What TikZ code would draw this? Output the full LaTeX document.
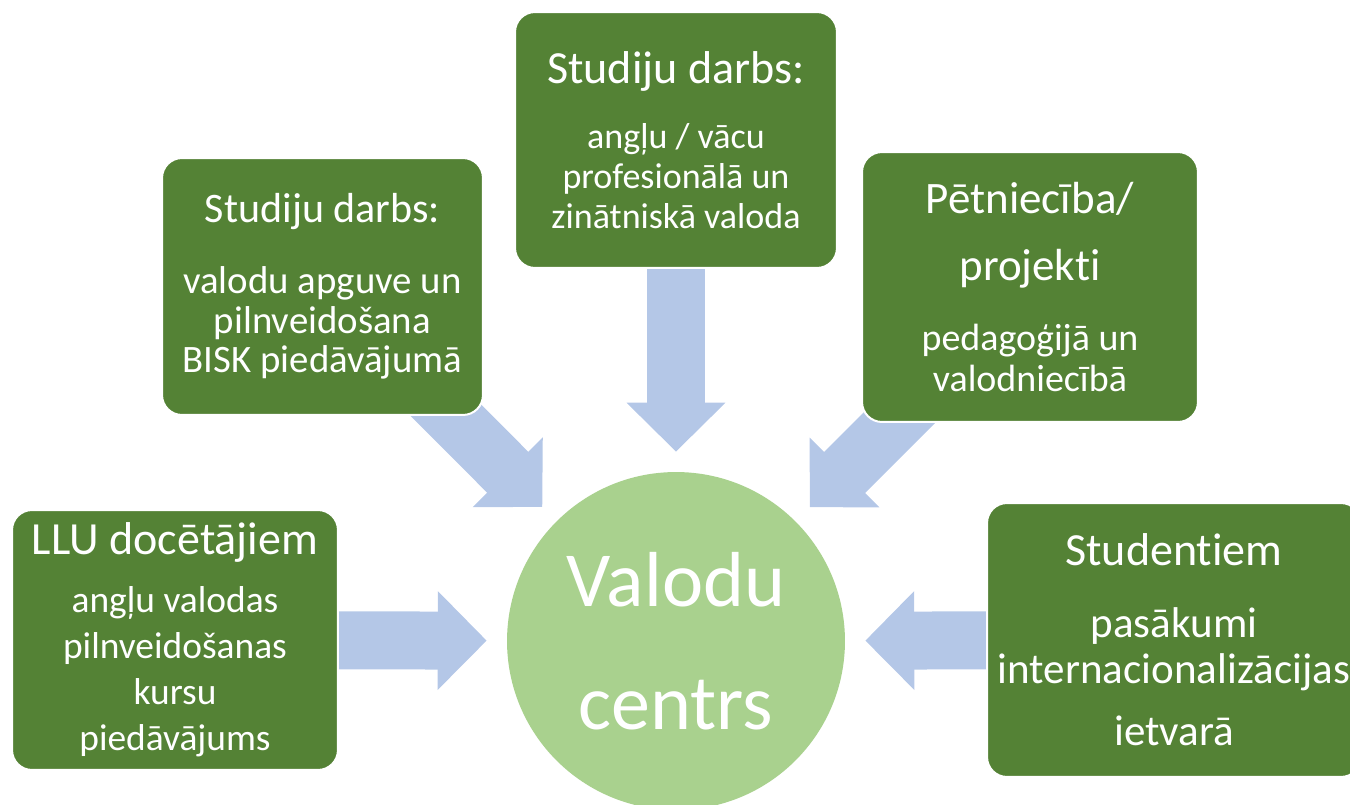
\documentclass[tikz,border=0pt]{standalone}
\usepackage{fontspec}
\setmainfont{Carlito}[Ligatures=NoCommon]
\usetikzlibrary{arrows.meta,backgrounds}

\definecolor{boxgreen}{RGB}{84,130,53}
\definecolor{hubgreen}{RGB}{169,209,142}
\definecolor{feedblue}{RGB}{180,199,231}

\begin{document}
\begin{tikzpicture}[x=0.02cm, y=-0.02cm,
    box/.style={rectangle, rounded corners=0.4cm, fill=boxgreen, draw=white, line width=0.04cm,
                text=white, align=center, inner sep=0pt},
    hub/.style={circle, fill=hubgreen, text=white, align=center, inner sep=0pt, minimum size=6.76cm},
    feed/.style={feedblue, line width=1.16cm, shorten >=0.4cm, -{Triangle[width=1.92cm, length=0.98cm]}}]

    \useasboundingbox (0,0) rectangle (1350,805);
    \clip (0,0) rectangle (1350,805);

    % Nodes {hub, llu, bisk, zin, petn, stud}
    \node [hub, font=\fontsize{44.4}{70}\selectfont]                          (hub)  at (676,641) {Valodu\\centrs};
    \node [box, minimum width=6.52cm, minimum height=5.2cm, font=\fontsize{21.3}{26.2}\selectfont]
                                                                              (llu)  at (175,640)
        {{\fontsize{26.2}{30}\selectfont LLU docētājiem}\\[6.8pt]angļu valodas\\pilnveidošanas\\kursu\\piedāvājums};
    \node [box, minimum width=6.42cm, minimum height=5.14cm, font=\fontsize{22.1}{22.5}\selectfont]
                                                                              (bisk) at (322.5,286.5)
        {{\fontsize{23.9}{28}\selectfont Studiju darbs:}\\[17.9pt]valodu apguve un\\pilnveidošana\\BISK piedāvājumā};
    \node [box, minimum width=6.44cm, minimum height=5.12cm, font=\fontsize{20.5}{22.8}\selectfont]
                                                                              (zin)  at (676,140)
        {{\fontsize{26.2}{30}\selectfont Studiju darbs:}\\[14.2pt]angļu / vācu\\profesionālā un\\zinātniskā valoda};
    \node [box, minimum width=6.72cm, minimum height=5.4cm, font=\fontsize{21.6}{23.3}\selectfont]
                                                                              (petn) at (1030,287)
        {{\fontsize{25.6}{30}\selectfont Pētniecība/}\\[14.8pt]{\fontsize{25.6}{30}\selectfont projekti}\\[16.5pt]pedagoģijā un\\valodniecībā};
    \node [box, minimum width=7.48cm, minimum height=5.48cm, font=\fontsize{24.5}{26.2}\selectfont]
                                                                              (stud) at (1174,640)
        {{\fontsize{26.2}{30}\selectfont Studentiem}\\[14.8pt]pasākumi\\internacionalizācijas\\[9.1pt]ietvarā};

    % Paths
    \begin{scope}[on background layer]
        \draw [feed] (llu.center)  -- (hub);
        \draw [feed] (bisk.center) -- (hub);
        \draw [feed] (zin.center)  -- (hub);
        \draw [feed] (petn.center) -- (hub);
        \draw [feed] (stud.center) -- (hub);
    \end{scope}

\end{tikzpicture}
\end{document}
